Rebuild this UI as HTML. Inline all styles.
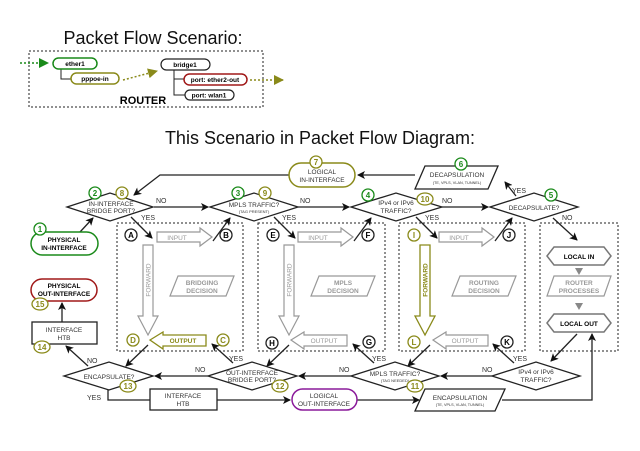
<!DOCTYPE html>
<html><head><meta charset="utf-8"><style>
html,body{margin:0;padding:0;background:#fff;}
svg{display:block;font-family:"Liberation Sans",sans-serif;}
</style></head><body>
<svg width="640" height="451" viewBox="0 0 640 451" xmlns="http://www.w3.org/2000/svg">
<defs>
<marker id="ab" markerWidth="8" markerHeight="8" refX="7" refY="4" orient="auto" markerUnits="userSpaceOnUse"><path d="M0,0 L8,4 L0,8 L2,4 z" fill="#111"/></marker>
<marker id="ag" markerWidth="10" markerHeight="10" refX="9" refY="5" orient="auto" markerUnits="userSpaceOnUse"><path d="M0,0 L10,5 L0,10 z" fill="#1a8a1a"/></marker>
<marker id="ao" markerWidth="10" markerHeight="10" refX="9" refY="5" orient="auto" markerUnits="userSpaceOnUse"><path d="M0,0 L10,5 L0,10 z" fill="#8a8a1a"/></marker>
</defs>

<!-- top scenario -->
<text x="153" y="44" font-size="18" text-anchor="middle" fill="#111">Packet Flow Scenario:</text>
<rect x="29" y="51" width="234" height="56" fill="none" stroke="#222" stroke-dasharray="2,2"/>
<line x1="20" y1="63" x2="48" y2="63" stroke="#1a8a1a" stroke-width="1.5" stroke-dasharray="2,2" marker-end="url(#ag)"/>
<path d="M61,68 V79 H71" fill="none" stroke="#222"/>
<rect x="53" y="58" width="44" height="11" rx="5.5" fill="#fff" stroke="#1a8a1a" stroke-width="1.5"/>
<text x="75" y="66" font-size="6.5" font-weight="bold" text-anchor="middle">ether1</text>
<rect x="71" y="73" width="48" height="11" rx="5.5" fill="#fff" stroke="#8a8a1a" stroke-width="1.5"/>
<text x="95" y="81" font-size="6.5" font-weight="bold" text-anchor="middle">pppoe-in</text>
<line x1="123" y1="80" x2="157" y2="71" stroke="#8a8a1a" stroke-width="1.5" stroke-dasharray="2,2" marker-end="url(#ao)"/>
<path d="M174,70 V79 H184 M174,79 V95 H185" fill="none" stroke="#222"/>
<rect x="161" y="59" width="49" height="11" rx="5.5" fill="#fff" stroke="#222" stroke-width="1.2"/>
<text x="185" y="67" font-size="6.5" font-weight="bold" text-anchor="middle">bridge1</text>
<rect x="184" y="74" width="63" height="11" rx="5.5" fill="#fff" stroke="#a01818" stroke-width="1.5"/>
<text x="215" y="82" font-size="6.5" font-weight="bold" text-anchor="middle">port: ether2-out</text>
<rect x="185" y="90" width="49" height="10" rx="5" fill="#fff" stroke="#222" stroke-width="1.2"/>
<text x="209" y="97.5" font-size="6.5" font-weight="bold" text-anchor="middle">port: wlan1</text>
<text x="143" y="104" font-size="11" font-weight="bold" text-anchor="middle">ROUTER</text>
<line x1="250" y1="80" x2="283" y2="80" stroke="#8a8a1a" stroke-width="1.5" stroke-dasharray="2,2" marker-end="url(#ao)"/>

<text x="320" y="144" font-size="18" text-anchor="middle" fill="#111">This Scenario in Packet Flow Diagram:</text>

<!-- dashed boxes -->
<g fill="none" stroke="#222" stroke-dasharray="2,2">
<rect x="117" y="223" width="126" height="128"/>
<rect x="258" y="223" width="127" height="128"/>
<rect x="399" y="223" width="126" height="128"/>
<rect x="540" y="223" width="78" height="128"/>
</g>

<!-- connectors -->
<g stroke="#222" stroke-width="1.3" fill="none">
<line x1="154" y1="207" x2="208" y2="207" marker-end="url(#ab)"/>
<line x1="298" y1="207" x2="349" y2="207" marker-end="url(#ab)"/>
<line x1="442" y1="207" x2="488" y2="207" marker-end="url(#ab)"/>
<line x1="131" y1="217" x2="152" y2="238" marker-end="url(#ab)"/>
<line x1="274" y1="217" x2="295" y2="238" marker-end="url(#ab)"/>
<line x1="416" y1="217" x2="437" y2="238" marker-end="url(#ab)"/>
<line x1="213" y1="241" x2="230" y2="218" marker-end="url(#ab)"/>
<line x1="354" y1="241" x2="371" y2="218" marker-end="url(#ab)"/>
<line x1="495" y1="241" x2="512" y2="218" marker-end="url(#ab)"/>
<line x1="516" y1="196" x2="505" y2="182" marker-end="url(#ab)"/>
<line x1="553" y1="218" x2="577" y2="240" marker-end="url(#ab)"/>
<line x1="415" y1="175" x2="358" y2="175" marker-end="url(#ab)"/>
<polyline points="289,175 160,175 134,195" marker-end="url(#ab)"/>
<line x1="80" y1="232" x2="93" y2="218" marker-end="url(#ab)"/>
<!-- bottom -->
<line x1="577" y1="334" x2="551" y2="361" marker-end="url(#ab)"/>
<line x1="492" y1="376" x2="441" y2="376" marker-end="url(#ab)"/>
<line x1="351" y1="376" x2="299" y2="376" marker-end="url(#ab)"/>
<line x1="208" y1="376" x2="155" y2="376" marker-end="url(#ab)"/>
<line x1="148" y1="345" x2="126" y2="366" marker-end="url(#ab)"/>
<line x1="289" y1="345" x2="267" y2="366" marker-end="url(#ab)"/>
<line x1="430" y1="345" x2="408" y2="366" marker-end="url(#ab)"/>
<line x1="233" y1="363" x2="212" y2="344" marker-end="url(#ab)"/>
<line x1="374" y1="363" x2="353" y2="344" marker-end="url(#ab)"/>
<line x1="514" y1="363" x2="493" y2="344" marker-end="url(#ab)"/>
<line x1="88" y1="366" x2="66" y2="346" marker-end="url(#ab)"/>
<line x1="62" y1="322" x2="62" y2="303" marker-end="url(#ab)"/>
<polyline points="108,390 108,400 150,400"/>
<line x1="217" y1="400" x2="290" y2="400" marker-end="url(#ab)"/>
<line x1="357" y1="400" x2="419" y2="400" marker-end="url(#ab)"/>
<polyline points="502,400 592,400 592,334" marker-end="url(#ab)"/>
</g>

<!-- labels yes/no -->
<g font-size="7" fill="#333">
<text x="156" y="203">NO</text><text x="141" y="220">YES</text>
<text x="300" y="203">NO</text><text x="282" y="220">YES</text>
<text x="442" y="203">NO</text><text x="425" y="220">YES</text>
<text x="512" y="193">YES</text><text x="562" y="220">NO</text>
<text x="87" y="363">NO</text><text x="87" y="400">YES</text>
<text x="195" y="372">NO</text><text x="229" y="361">YES</text>
<text x="339" y="372">NO</text><text x="372" y="361">YES</text>
<text x="482" y="372">NO</text><text x="513" y="361">YES</text>
</g>

<!-- diamonds -->
<g fill="#fff" stroke="#222" stroke-width="1.3">
<polygon points="67,207 110,193 153,207 110,221"/>
<polygon points="210,207 254,193 298,207 254,221"/>
<polygon points="351,207 396,193 442,207 396,221"/>
<polygon points="490,207 534,193 578,207 534,221"/>
<polygon points="64,376 109,362 153,376 109,390"/>
<polygon points="208,376 252,362 297,376 252,390"/>
<polygon points="351,376 395,362 439,376 395,390"/>
<polygon points="492,376 536,362 580,376 536,390"/>
</g>
<g font-size="6.5" fill="#333" text-anchor="middle">
<text x="111" y="206">IN-INTERFACE</text><text x="111" y="213">BRIDGE PORT?</text>
<text x="254" y="207">MPLS TRAFFIC?</text><text x="254" y="213" font-size="4">(TAG PRESENT)</text>
<text x="396" y="205">IPv4 or IPv6</text><text x="396" y="213">TRAFFIC?</text>
<text x="534" y="210">DECAPSULATE?</text>
<text x="109" y="379">ENCAPSULATE?</text>
<text x="252" y="375">OUT-INTERFACE</text><text x="252" y="382">BRIDGE PORT?</text>
<text x="395" y="376">MPLS TRAFFIC?</text><text x="395" y="382" font-size="4">(TAG NEEDED)</text>
<text x="536" y="374">IPv4 or IPv6</text><text x="536" y="382">TRAFFIC?</text>
</g>

<!-- terminals / boxes -->
<rect x="289" y="163" width="66" height="24" rx="12" fill="#fff" stroke="#8a8a1a" stroke-width="1.5"/>
<text x="322" y="174" font-size="6.5" text-anchor="middle" fill="#333">LOGICAL</text><text x="322" y="182" font-size="6.5" text-anchor="middle" fill="#333">IN-INTERFACE</text>
<polygon points="425,166 498,166 488,189 415,189" fill="#fff" stroke="#222" stroke-width="1.3"/>
<text x="457" y="177" font-size="6.5" text-anchor="middle" fill="#333">DECAPSULATION</text><text x="457" y="184" font-size="3.8" text-anchor="middle" fill="#333">(TE, VPLS, VLAN, TUNNEL)</text>
<rect x="31" y="232" width="67" height="23" rx="11.5" fill="#fff" stroke="#1a8a1a" stroke-width="1.5"/>
<text x="64" y="242" font-size="6.5" font-weight="bold" text-anchor="middle">PHYSICAL</text><text x="64" y="250" font-size="6.5" font-weight="bold" text-anchor="middle">IN-INTERFACE</text>
<rect x="31" y="279" width="66" height="22" rx="11" fill="#fff" stroke="#a01818" stroke-width="1.5"/>
<text x="64" y="288" font-size="6.5" font-weight="bold" text-anchor="middle">PHYSICAL</text><text x="64" y="296" font-size="6.5" font-weight="bold" text-anchor="middle">OUT-INTERFACE</text>
<rect x="32" y="322" width="65" height="22" fill="#fff" stroke="#222" stroke-width="1.3"/>
<text x="64" y="332" font-size="6.5" text-anchor="middle" fill="#333">INTERFACE</text><text x="64" y="340" font-size="6.5" text-anchor="middle" fill="#333">HTB</text>
<rect x="150" y="389" width="67" height="21" fill="#fff" stroke="#222" stroke-width="1.3"/>
<text x="183" y="398" font-size="6.5" text-anchor="middle" fill="#333">INTERFACE</text><text x="183" y="406" font-size="6.5" text-anchor="middle" fill="#333">HTB</text>
<rect x="292" y="389" width="65" height="21" rx="10.5" fill="#fff" stroke="#8a1a9a" stroke-width="1.5"/>
<text x="324" y="398" font-size="6.5" text-anchor="middle" fill="#333">LOGICAL</text><text x="324" y="406" font-size="6.5" text-anchor="middle" fill="#333">OUT-INTERFACE</text>
<polygon points="425,389 505,389 495,411 415,411" fill="#fff" stroke="#222" stroke-width="1.3"/>
<text x="460" y="400" font-size="6.5" text-anchor="middle" fill="#333">ENCAPSULATION</text><text x="460" y="406" font-size="3.8" text-anchor="middle" fill="#333">(TE, VPLS, VLAN, TUNNEL)</text>

<!-- inner box contents -->
<g id="bx">
<polygon points="157,232 200,232 200,228 212,237 200,246 200,242 157,242" fill="#fff" stroke="#999" stroke-width="1.2"/>
<text x="177" y="240" font-size="6.5" fill="#999" text-anchor="middle">INPUT</text>
<polygon points="143,245 153,245 153,316 158,316 148,335 138,316 143,316" fill="#fff" stroke="#999" stroke-width="1.2"/>
<text x="0" y="0" font-size="6.5" fill="#999" text-anchor="middle" transform="translate(150.5,280) rotate(-90)">FORWARD</text>
<polygon points="178,276 234,276 226,296 170,296" fill="#fff" stroke="#999" stroke-width="1.2"/>
</g>
<text x="202" y="285" font-size="6.5" fill="#999" font-weight="bold" text-anchor="middle">BRIDGING</text><text x="202" y="293" font-size="6.5" fill="#999" font-weight="bold" text-anchor="middle">DECISION</text>
<polygon points="150,340 163,332 163,335 206,335 206,346 163,346 163,349" fill="#fff" stroke="#8a8a1a" stroke-width="1.3"/>
<text x="183" y="343" font-size="6.5" fill="#8a8a1a" font-weight="bold" text-anchor="middle">OUTPUT</text>

<use href="#bx" transform="translate(141,0)"/>
<text x="343" y="285" font-size="6.5" fill="#999" font-weight="bold" text-anchor="middle">MPLS</text><text x="343" y="293" font-size="6.5" fill="#999" font-weight="bold" text-anchor="middle">DECISION</text>
<polygon points="291,340 304,332 304,335 347,335 347,346 304,346 304,349" fill="#fff" stroke="#999" stroke-width="1.2"/>
<text x="324" y="343" font-size="6.5" fill="#999" text-anchor="middle">OUTPUT</text>

<polygon points="439,232 482,232 482,228 494,237 482,246 482,242 439,242" fill="#fff" stroke="#999" stroke-width="1.2"/>
<text x="459" y="240" font-size="6.5" fill="#999" text-anchor="middle">INPUT</text>
<polygon points="420,245 430,245 430,316 435,316 425,335 415,316 420,316" fill="#fff" stroke="#8a8a1a" stroke-width="1.3"/>
<text x="0" y="0" font-size="6.5" fill="#8a8a1a" font-weight="bold" text-anchor="middle" transform="translate(427.5,280) rotate(-90)">FORWARD</text>
<polygon points="460,276 516,276 508,296 452,296" fill="#fff" stroke="#999" stroke-width="1.2"/>
<text x="484" y="285" font-size="6.5" fill="#999" font-weight="bold" text-anchor="middle">ROUTING</text><text x="484" y="293" font-size="6.5" fill="#999" font-weight="bold" text-anchor="middle">DECISION</text>
<polygon points="433,340 446,332 446,335 488,335 488,346 446,346 446,349" fill="#fff" stroke="#999" stroke-width="1.2"/>
<text x="465" y="343" font-size="6.5" fill="#999" text-anchor="middle">OUTPUT</text>

<!-- local box -->
<polygon points="547,256 554,247 604,247 611,256 604,265 554,265" fill="#fff" stroke="#777" stroke-width="1.5"/>
<text x="579" y="259" font-size="6.5" font-weight="bold" text-anchor="middle">LOCAL IN</text>
<polygon points="575,268 583,268 579,275" fill="#888"/>
<polygon points="554,276 611,276 604,296 547,296" fill="#fff" stroke="#999" stroke-width="1.2"/>
<text x="579" y="285" font-size="6.5" fill="#999" font-weight="bold" text-anchor="middle">ROUTER</text><text x="579" y="293" font-size="6.5" fill="#999" font-weight="bold" text-anchor="middle">PROCESSES</text>
<polygon points="575,303 583,303 579,310" fill="#888"/>
<polygon points="547,323 554,314 604,314 611,323 604,332 554,332" fill="#fff" stroke="#777" stroke-width="1.5"/>
<text x="579" y="326" font-size="6.5" font-weight="bold" text-anchor="middle">LOCAL OUT</text>

<!-- lettered circles -->
<g font-size="8" font-weight="bold" text-anchor="middle">
<g fill="#fff" stroke="#222" stroke-width="1.3">
<circle cx="131" cy="235" r="6"/><circle cx="226" cy="235" r="6"/>
<circle cx="273" cy="235" r="6"/><circle cx="368" cy="235" r="6"/>
<circle cx="509" cy="235" r="6"/><circle cx="272" cy="343" r="6"/>
<circle cx="369" cy="342" r="6"/><circle cx="507" cy="342" r="6"/>
</g>
<g fill="#fff" stroke="#8a8a1a" stroke-width="1.3">
<circle cx="133" cy="340" r="6"/><circle cx="223" cy="340" r="6"/>
<circle cx="414" cy="235" r="6"/><circle cx="414" cy="342" r="6"/>
</g>
<text x="131" y="238">A</text><text x="226" y="238">B</text><text x="273" y="238">E</text><text x="368" y="238">F</text>
<text x="509" y="238">J</text><text x="272" y="346">H</text><text x="369" y="345">G</text><text x="507" y="345">K</text>
<g fill="#8a8a1a"><text x="133" y="343">D</text><text x="223" y="343">C</text><text x="414" y="238">I</text><text x="414" y="345">L</text></g>
</g>

<!-- numbered circles -->
<g font-size="8" font-weight="bold" text-anchor="middle">
<g fill="#fff" stroke="#1a8a1a" stroke-width="1.3">
<circle cx="40" cy="229" r="6"/><circle cx="95" cy="193" r="6"/><circle cx="238" cy="193" r="6"/>
<circle cx="368" cy="195" r="6"/><circle cx="551" cy="195" r="6"/><circle cx="461" cy="164" r="6"/>
</g>
<g fill="#1a8a1a"><text x="40" y="232">1</text><text x="95" y="196">2</text><text x="238" y="196">3</text><text x="368" y="198">4</text><text x="551" y="198">5</text><text x="461" y="167">6</text></g>
<g fill="#fff" stroke="#8a8a1a" stroke-width="1.3">
<circle cx="316" cy="162" r="6"/><circle cx="122" cy="193" r="6"/><circle cx="265" cy="193" r="6"/>
<ellipse cx="425" cy="199" rx="8" ry="6"/><ellipse cx="415" cy="386" rx="8" ry="6"/><ellipse cx="280" cy="386" rx="8" ry="6"/>
<ellipse cx="128" cy="386" rx="8" ry="6"/><ellipse cx="42" cy="347" rx="8" ry="6"/><ellipse cx="40" cy="304" rx="8" ry="6"/>
</g>
<g fill="#8a8a1a"><text x="316" y="165">7</text><text x="122" y="196">8</text><text x="265" y="196">9</text>
<text x="425" y="202">10</text><text x="415" y="389">11</text><text x="280" y="389">12</text><text x="128" y="389">13</text><text x="42" y="350">14</text><text x="40" y="307">15</text></g>
</g>
</svg>
</body></html>
